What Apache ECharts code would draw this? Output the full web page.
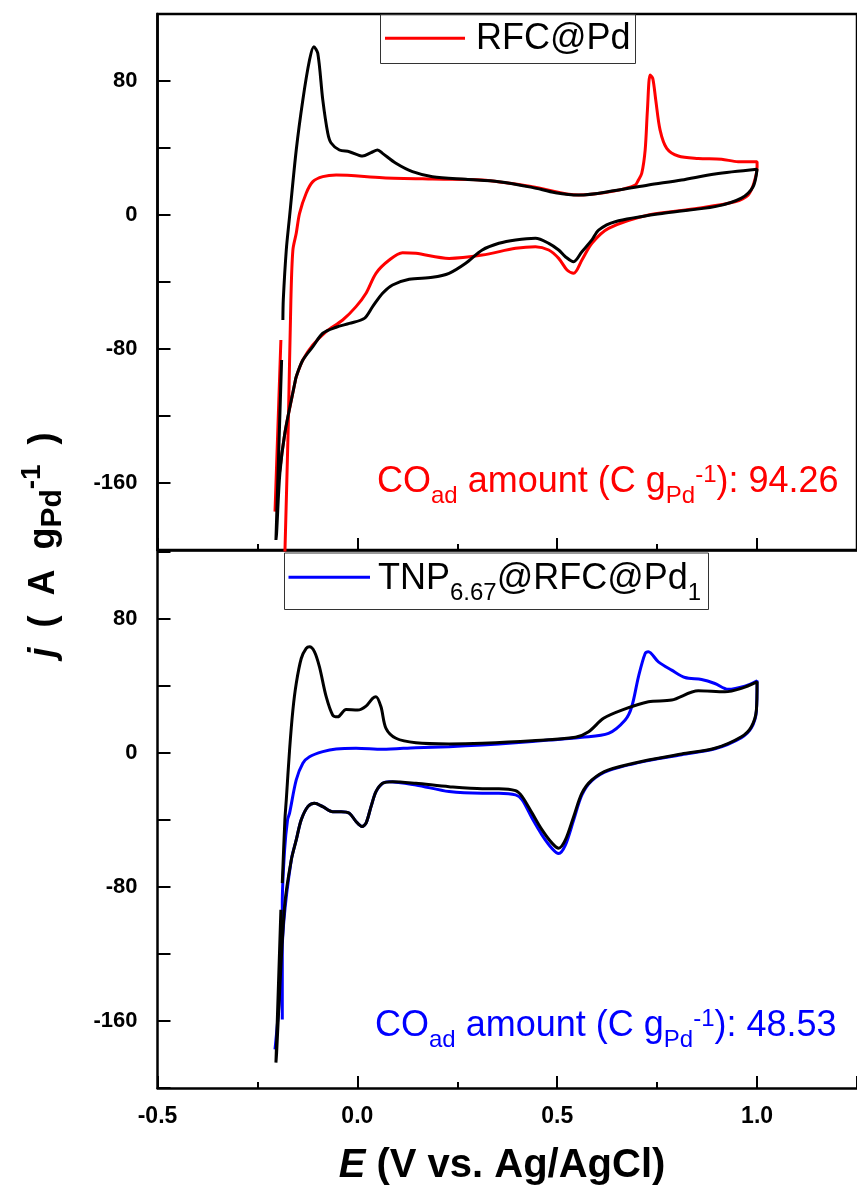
<!DOCTYPE html>
<html><head><meta charset="utf-8">
<script src="https://cdn.jsdelivr.net/npm/echarts@6/dist/echarts.min.js"></script>
<style>html,body{margin:0;padding:0;background:#fff}#c{width:857px;height:1198px}</style>
</head><body><div id="c"></div>
<script>
// ---- data (E in V vs Ag/AgCl, j in A g_Pd^-1) ----
const xTickLabels = [-0.5, 0.0, 0.5, 1.0];
const yTickLabels = [-160, -80, 0, 80];

const rfcPdRed = [
  [-0.182,-210],[-0.1813,-201.8],[-0.1728,-125.4],[-0.1663,-50.7],[-0.1613,-20.9],[-0.1529,-10.9],
  [-0.1446,1.0],[-0.128,13.0],[-0.1114,19.9],[-0.0865,22.9],[-0.053,23.9],[0.0631,22.3],
  [0.1878,21.5],[0.3125,20.9],[0.4372,16.9],[0.5536,11.9],[0.6451,14.5],[0.695,17.9],
  [0.7032,20.9],[0.7115,24.9],[0.72,38.8],[0.7257,62.7],[0.7324,83.6],[0.739,81.6],
  [0.7465,68.7],[0.7574,50.7],[0.774,39.8],[0.8029,35.2],[0.8529,33.8],[0.9111,33.3],
  [0.9526,31.8],[1.0,31.8],[1.0,28.8],[0.9918,18.9],[0.9776,11.9],[0.9444,7.9],
  [0.8529,4.0],[0.7282,0],[0.6284,-8.0],[0.5868,-16.9],[0.5618,-26.9],[0.5411,-34.8],
  [0.5245,-32.8],[0.5037,-25.9],[0.4788,-20.9],[0.4456,-18.9],[0.3958,-19.9],[0.3125,-23.9],
  [0.2294,-25.9],[0.1464,-22.9],[0.113,-22.5],[0.0798,-26.9],[0.0466,-34.8],[0.0217,-46.7],
  [-0.0033,-54.7],[-0.0367,-62.7],[-0.078,-69.6],[-0.1114,-77.6],[-0.1364,-86.6],[-0.1529,-96.5],
  [-0.1564,-100.3],[-0.1813,-130.1],[-0.1938,-152],[-0.2045,-173],[-0.206,-177.1],[-0.1913,-74.6]
];
const rfcPdBlack = [
  [-0.1863,-62.7],[-0.1853,-50.7],[-0.1778,-20.9],[-0.1696,-1.0],[-0.1529,38.8],[-0.1364,68.7],
  [-0.1197,92.5],[-0.109,100.5],[-0.099,96.5],[-0.0865,68.7],[-0.0741,49.0],[-0.0656,43.0],
  [-0.0449,38.8],[-0.02,37.8],[0.0132,35.2],[0.0342,37.2],[0.0506,38.8],[0.0631,36.8],
  [0.0965,30.9],[0.1379,25.9],[0.1878,22.9],[0.2711,21.3],[0.3541,19.9],[0.4372,16.5],
  [0.4955,13.3],[0.5536,11.9],[0.6451,14.6],[0.7282,17.9],[0.8112,20.9],[0.8945,24.5],
  [1.0,27.3],[0.99,16.9],[0.9608,10.1],[0.8945,5.0],[0.7698,1.2],[0.6451,-4.0],
  [0.6035,-9.0],[0.5868,-14.9],[0.5618,-21.9],[0.5411,-27.9],[0.5204,-24.9],[0.5037,-20.9],
  [0.4788,-16.9],[0.4456,-13.9],[0.3958,-14.9],[0.3541,-16.9],[0.3125,-20.9],[0.2711,-28.8],
  [0.2294,-34.8],[0.1878,-37.2],[0.1297,-38.4],[0.088,-41.8],[0.0631,-46.7],[0.0382,-54.7],
  [0.0175,-61.7],[-0.02,-64.7],[-0.053,-67.0],[-0.0865,-70.6],[-0.1114,-78.6],[-0.1364,-86.6],
  [-0.1529,-96.5],[-0.1564,-100.3],[-0.1813,-130.1],[-0.1938,-154.0],[-0.202,-189.8],[-0.2037,-194],
  [-0.1895,-86.6]
];
const tnpBlue = [
  [-0.1878,-159.1],[-0.1878,-89.6],[-0.182,-57.8],[-0.1746,-39.9],[-0.1696,-35.9],[-0.1529,-16.1],
  [-0.1364,-6.1],[-0.1197,-2.2],[-0.0865,0.8],[-0.053,2.4],[-0.0033,2.8],[0.0631,2.2],
  [0.1464,3.2],[0.2294,3.8],[0.3125,4.8],[0.3958,6.1],[0.4788,7.7],[0.5618,9.4],
  [0.6284,11.7],[0.67,19.7],[0.6865,27.6],[0.7032,45.5],[0.72,59.4],[0.7282,60.4],
  [0.7531,54.4],[0.7863,49.5],[0.8196,45.1],[0.8611,43.9],[0.8945,41.5],[0.9277,38.0],
  [0.9693,39.9],[1.0,43.1],[0.9983,25.0],[0.9858,15.0],[0.9608,9.2],[0.8945,2.5],
  [0.8112,-1.0],[0.7282,-4.5],[0.6284,-10.5],[0.5868,-16.5],[0.5618,-25.0],[0.5411,-40.0],
  [0.5204,-55.0],[0.5037,-60.0],[0.487,-57.0],[0.4621,-49.0],[0.4372,-39.0],[0.4123,-28.0],
  [0.3958,-25.0],[0.3541,-24.0],[0.3125,-24.0],[0.2294,-23.0],[0.1464,-19.1],[0.0798,-17.1],
  [0.0631,-18.1],[0.0466,-23.1],[0.0342,-32.0],[0.0217,-41.9],[0.0117,-43.9],[-0.0033,-40.9],
  [-0.02,-35.9],[-0.0407,-35.0],[-0.0616,-35.0],[-0.0865,-32.0],[-0.1072,-30.0],[-0.1239,-32.0],
  [-0.1404,-39.9],[-0.1529,-51.9],[-0.1654,-64],[-0.1838,-100],[-0.196,-150],[-0.206,-177]
];
const tnpBlack = [
  [-0.1878,-77.7],[-0.1813,-39.9],[-0.1778,-28.0],[-0.1696,1.8],[-0.1613,25.6],[-0.1529,41.5],
  [-0.1404,56.4],[-0.128,62.4],[-0.1197,63.4],[-0.1072,60.4],[-0.0948,51.4],[-0.078,33.6],
  [-0.0616,22.6],[-0.0491,21.6],[-0.0282,26.0],[0.0007,25.6],[0.0217,28.0],[0.0382,32.6],
  [0.0466,33.6],[0.0591,27.6],[0.0716,14.7],[0.0965,8.8],[0.1464,6.1],[0.2294,5.4],
  [0.3125,5.8],[0.4372,7.3],[0.5454,9.4],[0.5786,12.7],[0.616,20.7],[0.6616,25.6],
  [0.7282,30.6],[0.7863,31.6],[0.8529,37.1],[0.9195,36.5],[0.9608,38.6],[1.0,42.5],
  [0.9983,25.6],[0.9858,15.7],[0.9608,9.7],[0.8945,2.8],[0.8112,-0.6],[0.7282,-4.2],
  [0.6284,-10.1],[0.5868,-16.1],[0.5618,-24.0],[0.5411,-38.0],[0.5204,-51.9],[0.5037,-56.8],
  [0.487,-53.8],[0.4621,-45.9],[0.4372,-35.9],[0.4123,-26.0],[0.3958,-22.5],[0.3541,-21.3],
  [0.3125,-21.3],[0.2294,-20.1],[0.1464,-18.1],[0.088,-17.1],[0.0631,-18.1],[0.0466,-23.1],
  [0.0342,-32.0],[0.0217,-41.9],[0.0117,-43.9],[-0.0033,-40.9],[-0.02,-35.9],[-0.0407,-35.0],
  [-0.0616,-35.0],[-0.0865,-32.0],[-0.1072,-30.0],[-0.1239,-32.0],[-0.1404,-39.9],[-0.1529,-51.9],
  [-0.1654,-64],[-0.1813,-89.6],[-0.1938,-139.3],[-0.202,-179],[-0.2037,-184.8],[-0.1913,-93.6]
];
const coTop = '94.26';
const coBottom = '48.53';

// ---- chart ----
const FF = '"Liberation Sans", Arial, sans-serif';
const chart = echarts.init(document.getElementById('c'), null, {renderer:'canvas'});

function xAxisCfg(gridIndex, showLabel) {
  return {
    type:'value', gridIndex, min:-0.5, max:1.25, interval:0.5,
    axisLine:{show:true, onZero:false, lineStyle:{color:'#000', width:2.5}},
    axisTick:{show:true, inside:true, length:12, lineStyle:{color:'#000', width:2}},
    minorTick:{show:true, splitNumber:2, length:6, lineStyle:{color:'#000', width:2}},
    splitLine:{show:false}, minorSplitLine:{show:false},
    axisLabel:{show:showLabel, margin:17, color:'#000', fontFamily:FF, fontWeight:'bold', fontSize:23,
      showMaxLabel:false,
      formatter: v => xTickLabels.some(t => Math.abs(t - v) < 1e-6) ? v.toFixed(1) : ''}
  };
}
function yAxisCfg(gridIndex) {
  return {
    type:'value', gridIndex, min:-200, max:120, interval:40,
    axisLine:{show:true, onZero:false, lineStyle:{color:'#000', width:2.5}},
    axisTick:{show:true, inside:true, length:13, lineStyle:{color:'#000', width:2}},
    splitLine:{show:false},
    axisLabel:{show:true, margin:20, color:'#000', fontFamily:FF, fontWeight:'bold', fontSize:22,
      formatter: v => yTickLabels.includes(v) ? String(v) : ''}
  };
}
function lineSeries(data, color, xi) {
  return {type:'line', data, xAxisIndex:xi, yAxisIndex:xi, symbol:'none', showSymbol:false,
    smooth:0.3, clip:true, lineStyle:{color, width:3}, itemStyle:{color}, z:3};
}

const main = {fontFamily:FF, fontSize:36, lineHeight:36, verticalAlign:'bottom', padding:[0,0,8,0]};
const sub = {fontFamily:FF, fontSize:24, lineHeight:24, verticalAlign:'bottom', padding:[0,0,0,0]};
const sup = {fontFamily:FF, fontSize:24, lineHeight:24, verticalAlign:'bottom', padding:[0,0,21,0]};
function coText(val, color, x, y) {
  return {type:'text', x, y, z:100,
    style:{text:'{m|CO}{s|ad}{m| amount (C g}{s|Pd}{p|-1}{m|): ' + val + '}',
      fill:color, align:'left', verticalAlign:'bottom', textAlign:'left', textVerticalAlign:'bottom',
      rich:{m:Object.assign({color}, main), s:Object.assign({color}, sub), p:Object.assign({color}, sup)}}};
}

const option = {
  animation:false,
  backgroundColor:'#fff',
  grid:[
    {left:157.5, top:14, width:702, height:536, show:true, borderColor:'#000', borderWidth:2.5, backgroundColor:'transparent'},
    {left:157.5, top:552, width:702, height:536}
  ],
  xAxis:[xAxisCfg(0,false), xAxisCfg(1,true)],
  yAxis:[yAxisCfg(0), yAxisCfg(1)],
  series:[
    lineSeries(rfcPdRed, '#ff0000', 0),
    lineSeries(rfcPdBlack, '#000000', 0),
    lineSeries(tnpBlue, '#0000ff', 1),
    lineSeries(tnpBlack, '#000000', 1)
  ],
  graphic:[
    // top legend
    {type:'rect', z:100, shape:{x:380.5, y:14.5, width:255, height:49}, style:{fill:'transparent', stroke:'#333', lineWidth:1}},
    {type:'line', z:100, shape:{x1:385, y1:38.3, x2:465, y2:38.3}, style:{stroke:'#ff0000', lineWidth:3}},
    {type:'text', z:100, x:476, y:39, style:{text:'RFC@Pd', fill:'#000', font:'36px ' + FF,
      align:'left', verticalAlign:'middle', textAlign:'left', textVerticalAlign:'middle'}},
    // bottom legend
    {type:'rect', z:100, shape:{x:284.5, y:553, width:424, height:56.5}, style:{fill:'transparent', stroke:'#333', lineWidth:1}},
    {type:'line', z:100, shape:{x1:288.5, y1:577.3, x2:370, y2:577.3}, style:{stroke:'#0000ff', lineWidth:3}},
    {type:'text', z:100, x:378, y:605, style:{text:'{m|TNP}{s|6.67}{m|@RFC@Pd}{s|1}', fill:'#000',
      align:'left', verticalAlign:'bottom', textAlign:'left', textVerticalAlign:'bottom',
      rich:{m:{fontFamily:FF, fontSize:36, lineHeight:36, verticalAlign:'bottom', padding:[0,0,8,0], color:'#000'},
            s:{fontFamily:FF, fontSize:24, lineHeight:24, verticalAlign:'bottom', padding:[0,0,0,0], color:'#000'}}}},
    // annotations
    coText(coTop, '#ff0000', 377, 508),
    coText(coBottom, '#0000ff', 375, 1052),
    // y axis title
    {type:'text', z:100, x:70, y:545, rotation:Math.PI/2,
      style:{text:'{i|j}{m|\u00a0\u00a0(\u00a0\u00a0A\u00a0\u00a0g}{s|Pd}{p|-1}{m|\u00a0\u00a0)}', fill:'#000',
        align:'center', verticalAlign:'bottom', textAlign:'center', textVerticalAlign:'bottom',
        rich:{
          i:{fontFamily:FF, fontSize:36, fontWeight:'bold', fontStyle:'italic', lineHeight:36, verticalAlign:'bottom', padding:[0,0,8,0], color:'#000'},
          m:{fontFamily:FF, fontSize:36, fontWeight:'bold', lineHeight:36, verticalAlign:'bottom', padding:[0,0,8,0], color:'#000'},
          s:{fontFamily:FF, fontSize:30, fontWeight:'bold', lineHeight:30, verticalAlign:'bottom', padding:[0,0,2,0], color:'#000'},
          p:{fontFamily:FF, fontSize:28, fontWeight:'bold', lineHeight:28, verticalAlign:'bottom', padding:[0,0,24,0], color:'#000'}
        }}},
    // x axis title
    {type:'text', z:100, x:502, y:1166, style:{text:'{i|E}{m| (V vs. Ag/AgCl)}', fill:'#000',
      align:'center', verticalAlign:'middle', textAlign:'center', textVerticalAlign:'middle',
      rich:{
        i:{fontFamily:FF, fontSize:40, fontWeight:'bold', fontStyle:'italic', color:'#000'},
        m:{fontFamily:FF, fontSize:40, fontWeight:'bold', color:'#000'}
      }}}
  ]
};
chart.setOption(option);
</script>
</body></html>
